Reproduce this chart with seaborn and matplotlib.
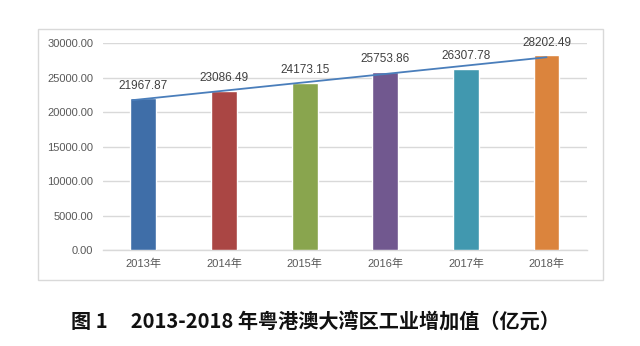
import numpy as np
import pandas as pd
import matplotlib
matplotlib.use("Agg")
import matplotlib.pyplot as plt
from matplotlib.patches import Rectangle
import seaborn as sns

# Industrial value added of the Greater Bay Area, 100 million yuan
years = ["2013年", "2014年", "2015年", "2016年", "2017年", "2018年"]
values = [21967.87, 23086.49, 24173.15, 25753.86, 26307.78, 28202.49]
bar_colors = ["#3F6EA8", "#AA4644", "#89A54E", "#71588F", "#4198AF", "#DB843D"]
y_ticks = [0, 5000, 10000, 15000, 20000, 25000, 30000]

sns.set_style("white")
plt.rcParams["font.family"] = ["Liberation Sans", "Noto Sans CJK SC", "DejaVu Sans"]

df = pd.DataFrame({"year": years, "value": values})

fig = plt.figure(figsize=(6.4, 3.46), dpi=100)
ax = fig.add_axes([0.161, 0.2775, 0.756, 0.598])

sns.barplot(data=df, x="year", y="value", hue="year", palette=bar_colors,
            width=0.32, saturation=1, legend=False, ax=ax, zorder=3)

# linear trend line fitted to the yearly values
xs = np.arange(len(values))
slope, intercept = np.polyfit(xs, values, 1)
tx = np.array([-0.13, len(values) - 1])
ax.plot(tx, slope * tx + intercept, color="#4A7EBB", lw=1.3, zorder=4)

for i, v in enumerate(values):
    ax.text(i, v + 1000, f"{v:.2f}", ha="center", va="bottom",
            fontsize=8.5, color="#404040", zorder=5)

ax.set_xlim(-0.5, len(values) - 0.5)
ax.set_ylim(0, 30000)
ax.set_yticks(y_ticks)
ax.set_yticklabels([f"{t:.2f}" for t in y_ticks])
ax.yaxis.grid(True, color="#D9D9D9", lw=1, zorder=0)
ax.set_axisbelow(True)
ax.set_xlabel("")
ax.set_ylabel("")
for s in ["left", "right", "top"]:
    ax.spines[s].set_visible(False)
ax.spines["bottom"].set_color("#D9D9D9")
ax.spines["bottom"].set_linewidth(1)
ax.tick_params(axis="both", length=0, labelsize=8, labelcolor="#595959")
ax.tick_params(axis="y", pad=7)
ax.tick_params(axis="x", pad=6)

# chart border
fig.patches.append(Rectangle((0.059, 0.191), 0.883, 0.725, transform=fig.transFigure,
                             fill=False, edgecolor="#D9D9D9", lw=1))

fig.text(0.493, 0.069, "图 1     2013-2018 年粤港澳大湾区工业增加值（亿元）",
         ha="center", va="center", fontsize=14.5, color="#111111",
         family=["Noto Sans CJK SC", "DejaVu Sans"], weight="bold")

fig.savefig("out.png", dpi=100, facecolor="white")
